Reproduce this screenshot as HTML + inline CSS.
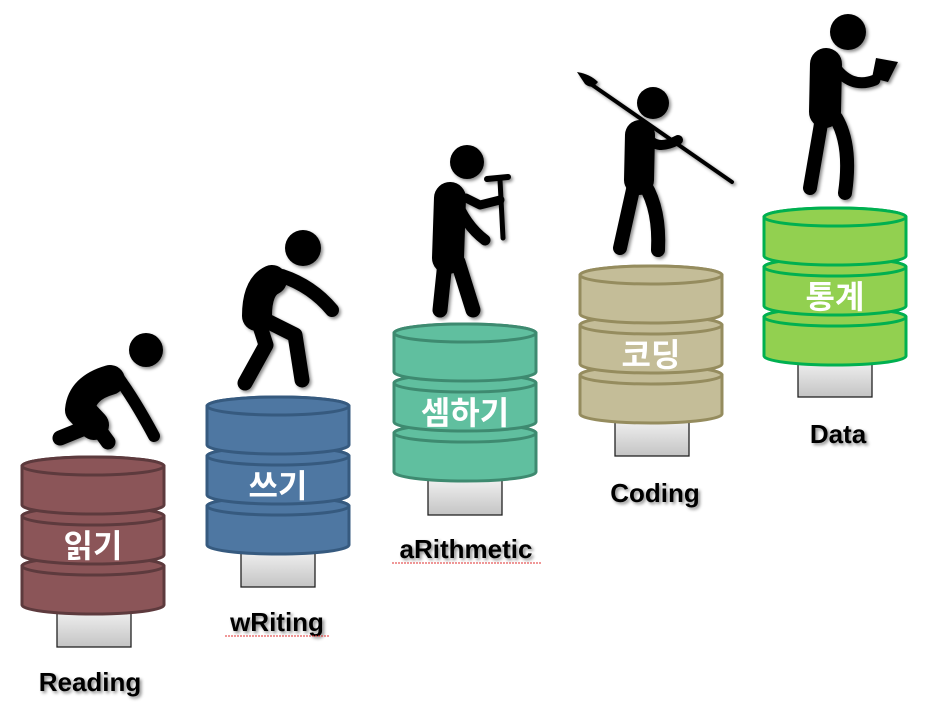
<!DOCTYPE html>
<html><head><meta charset="utf-8"><style>
html,body{margin:0;padding:0;background:#fff;width:933px;height:702px;overflow:hidden}
svg{display:block}
.lbl{font-family:"Liberation Sans","Noto Sans CJK KR",sans-serif;font-weight:bold;font-size:26px;fill:#000}
.ko{font-family:"Liberation Sans","Noto Sans CJK KR","NanumGothic",sans-serif;font-weight:bold;font-size:32px;fill:#fff}
.f{stroke:#000;stroke-linecap:round;stroke-linejoin:round;fill:none}
</style></head><body>
<svg width="933" height="702" viewBox="0 0 933 702" xmlns="http://www.w3.org/2000/svg">
<defs>
<linearGradient id="g" x1="0" y1="0" x2="0" y2="1"><stop offset="0" stop-color="#f4f4f4"/><stop offset="1" stop-color="#c4c4c4"/></linearGradient>
<filter id="sh" x="-10%" y="-10%" width="130%" height="140%"><feDropShadow dx="2" dy="2" stdDeviation="1.5" flood-color="#000" flood-opacity="0.45"/></filter>
<g id="disk">
<path d="M0,9 A71,9 0 0 1 142,9 V48 A71,9 0 0 1 0,48 Z"/>
<ellipse cx="71" cy="9" rx="71" ry="9"/>
</g>
</defs>

<g stroke="#222" stroke-width="1.3" fill="url(#g)">
<rect x="57" y="608" width="74" height="39"/>
<rect x="241" y="548" width="74" height="39"/>
<rect x="428" y="476" width="74" height="39"/>
<rect x="615" y="417" width="74" height="39"/>
<rect x="798" y="358" width="74" height="39"/>
</g>

<g transform="translate(22,457)" fill="#8b5558" stroke="#5d3a3d" stroke-width="3">
<use href="#disk" y="100"/><use href="#disk" y="50"/><use href="#disk" y="0"/></g>
<g transform="translate(207,397)" fill="#4e77a2" stroke="#365a7f" stroke-width="3">
<use href="#disk" y="100"/><use href="#disk" y="50"/><use href="#disk" y="0"/></g>
<g transform="translate(394,324)" fill="#60bf9f" stroke="#3e8a70" stroke-width="3">
<use href="#disk" y="100"/><use href="#disk" y="50"/><use href="#disk" y="0"/></g>
<g transform="translate(580,266)" fill="#c4bd98" stroke="#958c5e" stroke-width="3">
<use href="#disk" y="100"/><use href="#disk" y="50"/><use href="#disk" y="0"/></g>
<g transform="translate(764,208)" fill="#92d050" stroke="#00b050" stroke-width="3">
<use href="#disk" y="100"/><use href="#disk" y="50"/><use href="#disk" y="0"/></g>

<text class="ko" x="93" y="557" text-anchor="middle">읽기</text>
<text class="ko" x="278" y="497" text-anchor="middle">쓰기</text>
<text class="ko" x="465" y="424" text-anchor="middle">셈하기</text>
<text class="ko" x="651" y="366" text-anchor="middle">코딩</text>
<text class="ko" x="835" y="308" text-anchor="middle">통계</text>

<g filter="url(#sh)">
<text class="lbl" x="90" y="691" text-anchor="middle">Reading</text>
<text class="lbl" x="277" y="631" text-anchor="middle">wRiting</text>
<text class="lbl" x="466" y="558" text-anchor="middle">aRithmetic</text>
<text class="lbl" x="655" y="502" text-anchor="middle">Coding</text>
<text class="lbl" x="838" y="443" text-anchor="middle">Data</text>
</g>
<g stroke="#e03030" stroke-width="1" fill="none" stroke-dasharray="2,1">
<path d="M225,636 H330"/><path d="M392,563 H541"/>
</g>

<g filter="url(#sh)">
<circle cx="146" cy="350" r="17"/>
<path class="f" stroke-width="30" d="M110,380 Q82,388 80,410 L94,425"/>
<path class="f" stroke-width="15" d="M92,425 L60,438"/>
<path class="f" stroke-width="15" d="M92,420 L108,442"/>
<path class="f" stroke-width="12" d="M114,372 Q132,395 154,436"/>

<circle cx="303" cy="248" r="18"/>
<path class="f" stroke-width="30" d="M272,280 Q257,287 257,316"/>
<path class="f" stroke-width="14" d="M282,276 Q312,286 332,310"/>
<path class="f" stroke-width="15" d="M258,320 L266,345 L245,383"/>
<path class="f" stroke-width="15" d="M265,320 L295,335 L302,380"/>

<circle cx="467" cy="162" r="17"/>
<path class="f" stroke-width="32" d="M450,198 L448,258"/>
<path class="f" stroke-width="15" d="M445,262 L440,310"/>
<path class="f" stroke-width="15" d="M458,262 L473,310"/>
<path class="f" stroke-width="11" d="M455,198 Q465,225 485,240"/>
<path class="f" stroke-width="9" d="M466,198 L480,205 L500,200"/>
<path class="f" stroke-width="5" d="M500,180 L503,238"/>
<path class="f" stroke-width="6" d="M487,179 L508,177"/>

<circle cx="653" cy="103" r="16"/>
<path class="f" stroke-width="4" d="M585,80 L732,182"/>
<path d="M577,72 Q590,74 598,82 Q592,90 585,84 Z" fill="#000"/>
<path class="f" stroke-width="30" d="M640,135 L639,180"/>
<path class="f" stroke-width="14" d="M634,185 L620,248"/>
<path class="f" stroke-width="14" d="M645,185 Q660,210 658,250"/>
<path class="f" stroke-width="10" d="M646,135 Q655,152 678,140"/>

<circle cx="848" cy="32" r="18"/>
<path class="f" stroke-width="32" d="M826,64 L825,112"/>
<path class="f" stroke-width="14" d="M822,118 L810,188"/>
<path class="f" stroke-width="14" d="M836,118 Q852,145 845,193"/>
<path class="f" stroke-width="11" d="M833,64 Q850,90 875,80"/>
<path d="M876,58 L898,62 L888,82 L872,78 Z" fill="#000"/>
</g>
</svg>
</body></html>
